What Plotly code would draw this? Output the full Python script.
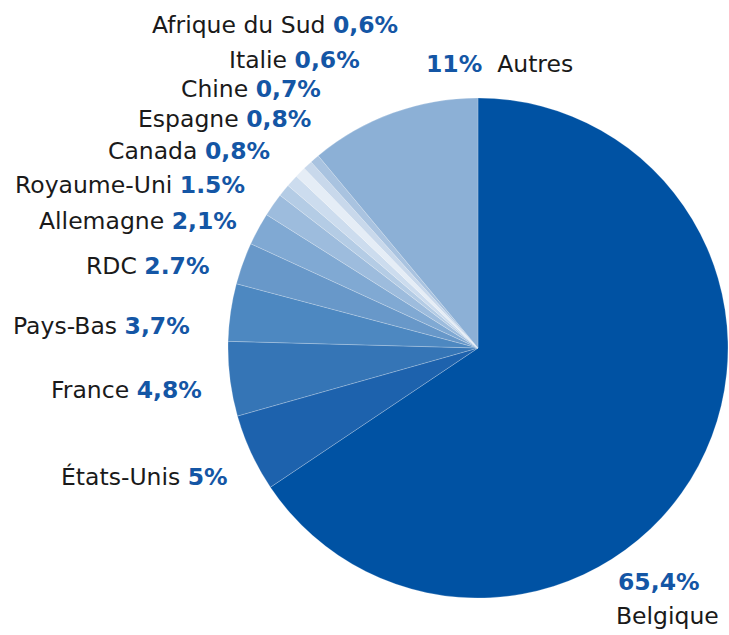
import plotly.graph_objects as go

labels = ["Belgique", "États-Unis", "France", "Pays-Bas", "RDC", "Allemagne",
          "Royaume-Uni", "Canada", "Espagne", "Chine", "Italie", "Afrique du Sud", "Autres"]
values = [65.4, 5, 4.8, 3.7, 2.7, 2.1, 1.5, 0.8, 0.8, 0.7, 0.6, 0.6, 11]
display = ["65,4%", "5%", "4,8%", "3,7%", "2.7%", "2,1%", "1.5%", "0,8%", "0,8%",
           "0,7%", "0,6%", "0,6%", "11%"]
colors = ["#0052A3", "#1D62AD", "#3575B6", "#4D88C1", "#6898C9", "#80A9D3",
          "#9DBCDD", "#B4CCE5", "#CCDCEE", "#E5EDF6", "#C8D8EB", "#A9C3E0", "#8CB0D6"]

# label layout positions (pixels; x = right edge for left-side labels, y = middle)
label_pos = {
    "Afrique du Sud": (400, 25),
    "Italie": (362, 60),
    "Chine": (323, 89),
    "Espagne": (313, 119),
    "Canada": (272, 151),
    "Royaume-Uni": (247, 185),
    "Allemagne": (239, 221),
    "RDC": (212, 266),
    "Pays-Bas": (192, 326),
    "France": (204, 390),
    "États-Unis": (230, 477),
}

W, H = 729, 635
NUM_COLOR = "#1456A5"
FONT = "'DejaVu Sans', sans-serif"

fig = go.Figure(go.Pie(
    labels=labels, values=values, sort=False, direction="clockwise", rotation=0,
    marker=dict(colors=colors, line=dict(color="rgba(255,255,255,0.35)", width=0.6)),
    textinfo="none", hoverinfo="label+percent", showlegend=False,
    domain=dict(x=[228 / W, 728 / W], y=[(H - 598) / H, (H - 98) / H]),
))

ann = []
for lab, disp in zip(labels, display):
    if lab in label_pos:
        x, y = label_pos[lab]
        ann.append(dict(x=x / W, y=1 - y / H, xref="paper", yref="paper",
                        xanchor="right", yanchor="middle", showarrow=False,
                        text=f"{lab} <b><span style='color:{NUM_COLOR}'>{disp}</span></b>"))
# Autres
ann.append(dict(x=424 / W, y=1 - 64 / H, xref="paper", yref="paper",
                xanchor="left", yanchor="middle", showarrow=False,
                text=f"<b><span style='color:{NUM_COLOR}'>{display[-1]}</span></b>  {labels[-1]}"))
# Belgique
ann.append(dict(x=616 / W, y=1 - 582 / H, xref="paper", yref="paper",
                xanchor="left", yanchor="middle", showarrow=False,
                text=f"<b><span style='color:{NUM_COLOR}'>{display[0]}</span></b>"))
ann.append(dict(x=614 / W, y=1 - 616 / H, xref="paper", yref="paper",
                xanchor="left", yanchor="middle", showarrow=False,
                text=labels[0]))

fig.update_layout(
    width=W, height=H, margin=dict(l=0, r=0, t=0, b=0),
    paper_bgcolor="white", plot_bgcolor="white",
    font=dict(family=FONT, size=23.5, color="#1a1a1a"),
    annotations=ann,
)

fig.write_html("out.html", config={"displayModeBar": False},
               post_script="document.body.style.margin='0';document.body.style.overflow='hidden';")
